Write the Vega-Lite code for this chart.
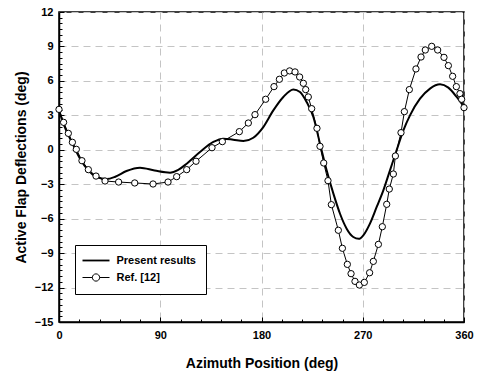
{
  "$schema": "https://vega.github.io/schema/vega-lite/v6.json",
  "width": 405,
  "height": 310,
  "autosize": {"type": "none"},
  "padding": {"left": 59, "top": 12, "right": 13, "bottom": 50},
  "background": "white",
  "config": {
    "font": "Liberation Sans",
    "view": {"stroke": "black", "strokeWidth": 1.5},
    "axis": {
      "labelFont": "Liberation Sans", "labelFontWeight": "bold", "labelFontSize": 11, "labelColor": "black",
      "titleFont": "Liberation Sans", "titleFontWeight": "bold", "titleFontSize": 14, "titleColor": "black",
      "domainColor": "black", "domainWidth": 1.5,
      "gridColor": "#c4c4c4", "gridDash": [7, 5], "gridWidth": 1
    },
    "legend": {
      "labelFont": "Liberation Sans", "labelFontWeight": "bold", "labelFontSize": 11, "labelColor": "black"
    }
  },
  "datasets": {
    "present": [
      {"az": 0, "v": 3.44}, {"az": 3.9, "v": 2.28}, {"az": 11.3, "v": 0.68}, {"az": 18.7, "v": -0.78},
      {"az": 26.1, "v": -1.79}, {"az": 33.5, "v": -2.37}, {"az": 42.4, "v": -2.55}, {"az": 50, "v": -2.35},
      {"az": 60, "v": -1.85}, {"az": 72, "v": -1.56}, {"az": 85, "v": -1.8}, {"az": 98.7, "v": -1.99},
      {"az": 106, "v": -1.75}, {"az": 113.5, "v": -1.21}, {"az": 125.3, "v": -0.2}, {"az": 137.2, "v": 0.68},
      {"az": 146.1, "v": 0.97}, {"az": 154.8, "v": 0.88}, {"az": 163.9, "v": 0.76}, {"az": 172.7, "v": 1.05},
      {"az": 181.6, "v": 1.98}, {"az": 190.5, "v": 3.43}, {"az": 199.4, "v": 4.6}, {"az": 208.3, "v": 5.26},
      {"az": 214.2, "v": 5.03}, {"az": 220.1, "v": 4.16}, {"az": 226.1, "v": 2.85}, {"az": 232, "v": 0.53},
      {"az": 237.9, "v": -1.79}, {"az": 243.9, "v": -3.82}, {"az": 249.8, "v": -5.57}, {"az": 255.7, "v": -6.87},
      {"az": 261.6, "v": -7.6}, {"az": 266.5, "v": -7.76}, {"az": 270.5, "v": -7.45}, {"az": 276.4, "v": -6.43},
      {"az": 282.4, "v": -4.98}, {"az": 288.3, "v": -3.53}, {"az": 294.2, "v": -1.79}, {"az": 300.1, "v": -0.05},
      {"az": 306.1, "v": 1.69}, {"az": 312, "v": 3.0}, {"az": 320.9, "v": 4.45}, {"az": 329.8, "v": 5.33},
      {"az": 338.7, "v": 5.7}, {"az": 346.1, "v": 5.41}, {"az": 353.5, "v": 4.6}, {"az": 360, "v": 3.73}
    ],
    "ref": [
      {"az": 0, "v": 3.52}, {"az": 4.1, "v": 2.39}, {"az": 8.3, "v": 1.43}, {"az": 11.9, "v": 0.65},
      {"az": 15.4, "v": 0.04}, {"az": 20.4, "v": -0.95}, {"az": 26.1, "v": -1.73}, {"az": 32.9, "v": -2.29},
      {"az": 40.9, "v": -2.72}, {"az": 53.0, "v": -2.81}, {"az": 67.3, "v": -2.89}, {"az": 83.6, "v": -2.98},
      {"az": 96.9, "v": -2.81}, {"az": 104.6, "v": -2.34}, {"az": 113.5, "v": -1.73}, {"az": 121.8, "v": -1.0},
      {"az": 136.0, "v": 0.18}, {"az": 145.2, "v": 0.71}, {"az": 160.3, "v": 1.58}, {"az": 168.3, "v": 2.33},
      {"az": 174.2, "v": 3.06}, {"az": 183.7, "v": 4.4}, {"az": 191.1, "v": 5.5}, {"az": 195.9, "v": 6.14},
      {"az": 200.3, "v": 6.69}, {"az": 205.0, "v": 6.87}, {"az": 209.8, "v": 6.78}, {"az": 213.9, "v": 6.34},
      {"az": 217.2, "v": 5.79}, {"az": 219.3, "v": 5.24}, {"az": 221.6, "v": 4.6}, {"az": 224.6, "v": 3.58},
      {"az": 229.3, "v": 1.87}, {"az": 232.0, "v": 0.3}, {"az": 235.3, "v": -1.15}, {"az": 239.1, "v": -2.69},
      {"az": 242.1, "v": -4.78}, {"az": 248.3, "v": -7.01}, {"az": 251.9, "v": -8.58}, {"az": 256.3, "v": -9.98},
      {"az": 259.6, "v": -10.79}, {"az": 263.1, "v": -11.46}, {"az": 267.0, "v": -11.78}, {"az": 271.4, "v": -11.55},
      {"az": 276.1, "v": -10.71}, {"az": 279.4, "v": -9.72}, {"az": 283.9, "v": -8.24}, {"az": 287.4, "v": -6.7},
      {"az": 291.3, "v": -4.75}, {"az": 293.6, "v": -3.42}, {"az": 297.2, "v": -2.11}, {"az": 299.0, "v": -0.54},
      {"az": 304.0, "v": 1.49}, {"az": 307.0, "v": 3.32}, {"az": 311.4, "v": 5.24}, {"az": 317.3, "v": 7.04},
      {"az": 321.8, "v": 8.08}, {"az": 325.6, "v": 8.69}, {"az": 331.3, "v": 9.01}, {"az": 336.6, "v": 8.69},
      {"az": 342.2, "v": 8.05}, {"az": 346.1, "v": 7.33}, {"az": 349.9, "v": 6.4}, {"az": 353.2, "v": 5.5},
      {"az": 356.4, "v": 4.89}, {"az": 357.9, "v": 4.4}, {"az": 360, "v": 3.67}
    ]
  },
  "resolve": {"axis": {"x": "independent", "y": "independent"}},
  "layer": [
    {
      "data": {"name": "ref"},
      "transform": [{"calculate": "'Ref. [12]'", "as": "series"}],
      "mark": {"type": "line", "strokeWidth": 1, "interpolate": "linear", "clip": true},
      "encoding": {
        "x": {"field": "az", "type": "quantitative", "scale": {"domain": [0, 360], "nice": false, "zero": false},
          "axis": {"title": "Azimuth Position (deg)", "values": [0, 90, 180, 270, 360], "ticks": false, "labelPadding": 7, "titlePadding": 16, "labelFlush": false}},
        "y": {"field": "v", "type": "quantitative", "scale": {"domain": [-15, 12], "nice": false, "zero": false},
          "axis": {"title": "Active Flap Deflections (deg)", "values": [-15, -12, -9, -6, -3, 0, 3, 6, 9, 12], "ticks": false, "labelPadding": 6, "titlePadding": 6}},
        "stroke": {"field": "series", "type": "nominal",
          "scale": {"domain": ["Present results", "Ref. [12]"], "range": ["black", "black"]},
          "legend": {
            "title": null, "orient": "none", "legendX": 16, "legendY": 233,
            "strokeColor": "black", "fillColor": "white", "padding": 10, "cornerRadius": 0,
            "rowPadding": 5, "labelOffset": 15, "symbolOffset": 5.5, "symbolSize": 729,
            "symbolType": "M-1,0H1",
            "encode": {
              "symbols": {"update": {
                "shape": {"signal": "datum.value === 'Ref. [12]' ? 'M-1,0H-0.27M0.27,0H1M-0.27,0A0.27,0.27 0 1,0 0.27,0A0.27,0.27 0 1,0 -0.27,0' : 'M-1,0H1'"},
                "size": {"value": 729},
                "strokeWidth": {"signal": "datum.value === 'Ref. [12]' ? 1 : 1.8"},
                "fill": {"value": "white"},
                "fillOpacity": {"value": 1},
                "stroke": {"value": "black"}
              }}
            }
          }}
      }
    },
    {
      "data": {"name": "present"},
      "transform": [{"calculate": "'Present results'", "as": "series"}],
      "mark": {"type": "line", "strokeWidth": 2, "interpolate": "monotone", "clip": true},
      "encoding": {
        "x": {"field": "az", "type": "quantitative", "axis": {"orient": "bottom", "title": null, "labels": false, "domain": false, "grid": false, "values": [0, 90, 180, 270, 360], "tickSize": -5, "tickColor": "black", "tickWidth": 1}},
        "y": {"field": "v", "type": "quantitative", "axis": {"orient": "left", "title": null, "labels": false, "domain": false, "grid": false, "values": [-15, -12, -9, -6, -3, 0, 3, 6, 9, 12], "tickSize": -5, "tickColor": "black", "tickWidth": 1}},
        "stroke": {"field": "series", "type": "nominal"}
      }
    },
    {
      "data": {"name": "ref"},
      "mark": {"type": "point", "shape": "circle", "size": 40, "filled": false, "fill": "white", "fillOpacity": 1, "stroke": "black", "strokeWidth": 1},
      "encoding": {
        "x": {"field": "az", "type": "quantitative", "axis": {"orient": "bottom", "title": null, "labels": false, "domain": false, "grid": false, "values": [18, 36, 54, 72, 108, 126, 144, 162, 198, 216, 234, 252, 288, 306, 324, 342], "tickSize": -3, "tickColor": "black", "tickWidth": 1}},
        "y": {"field": "v", "type": "quantitative", "axis": {"orient": "left", "title": null, "labels": false, "domain": false, "grid": false, "values": [-14.5, -14, -13.5, -13, -12.5, -11.5, -11, -10.5, -10, -9.5, -8.5, -8, -7.5, -7, -6.5, -5.5, -5, -4.5, -4, -3.5, -2.5, -2, -1.5, -1, -0.5, 0.5, 1, 1.5, 2, 2.5, 3.5, 4, 4.5, 5, 5.5, 6.5, 7, 7.5, 8, 8.5, 9.5, 10, 10.5, 11, 11.5], "tickSize": -3, "tickColor": "black", "tickWidth": 1}}
      }
    }
  ]
}
